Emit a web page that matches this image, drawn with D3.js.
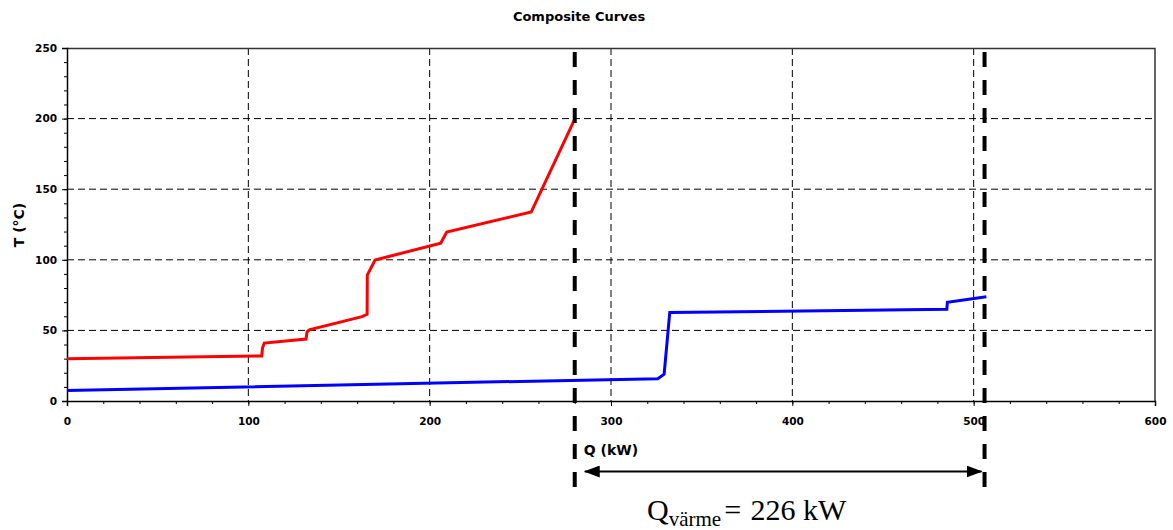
<!DOCTYPE html>
<html>
<head>
<meta charset="utf-8">
<script src="https://cdn.jsdelivr.net/npm/d3@7"></script>
<style>
    body { margin: 0; background: #fff; }
    text { font-family: "DejaVu Sans", sans-serif; font-weight: bold; }
    .tick text { font-size: 10.5px; fill: #000; }
</style>
</head>
<body>
<script>
// Composite curves: hot (red) and cold (blue) streams, Q in kW vs T in C.

// Axis ticks
var xTicks = [0, 100, 200, 300, 400, 500, 600];
var yTicks = [0, 50, 100, 150, 200, 250];

// Hot composite curve
var hotQ = [0, 107.4, 107.8, 108.8, 131.8, 132.4, 133.6, 162.7, 165.5,
            165.6, 169.9, 206.1, 209.4, 256, 280];
var hotT = [30, 31.9, 37.5, 41.0, 43.9, 49.0, 50.4, 59.7, 61.4,
            89.2, 99.9, 111.7, 119.7, 133.8, 199.7];

// Cold composite curve
var coldQ = [0, 325.8, 329.3, 332.4, 485.2, 485.5, 507];
var coldT = [7.5, 15.8, 19.0, 62.7, 64.9, 69.9, 73.9];

// Pinch / heating duty markers
var dutyQ = [280, 506];
var dutyLabel = "226 kW";

var margin = {top: 48, right: 18, bottom: 129, left: 67},
    width = 1173 - margin.left - margin.right,
    height = 530 - margin.top - margin.bottom;

var root = d3.select("body").append("svg")
    .attr("width", 1173)
    .attr("height", 530);

var svg = root.append("g")
    .attr("transform", "translate(" + margin.left + "," + margin.top + ")");

var xScale = d3.scaleLinear().domain([0, 600]).range([0, width]);
var yScale = d3.scaleLinear().domain([0, 250]).range([height, 0]);

// Grid lines, dashed
svg.selectAll(".vgrid")
    .data(xTicks.slice(1, -1))
    .enter()
    .append("line")
    .attr("x1", function(d) { return xScale(d); })
    .attr("x2", function(d) { return xScale(d); })
    .attr("y1", 0)
    .attr("y2", height)
    .attr("stroke", "#000")
    .attr("stroke-dasharray", "7,4");

svg.selectAll(".hgrid")
    .data(yTicks.slice(1, -1))
    .enter()
    .append("line")
    .attr("x1", 0)
    .attr("x2", width)
    .attr("y1", function(d) { return yScale(d); })
    .attr("y2", function(d) { return yScale(d); })
    .attr("stroke", "#000")
    .attr("stroke-dasharray", "7,4");

// Frame on top and right
svg.append("path")
    .attr("d", "M0,0.5H" + width + "V" + height)
    .attr("fill", "none")
    .attr("stroke", "#333")
    .attr("stroke-width", 1.5);

// Minor ticks
var xMinor = d3.range(0, 601, 20);
var yMinor = d3.range(0, 251, 10);

svg.append("g")
    .attr("transform", "translate(0," + height + ")")
    .call(d3.axisBottom(xScale).tickValues(xMinor).tickSize(3)
        .tickFormat(""))
    .select(".domain").remove();

svg.append("g")
    .call(d3.axisLeft(yScale).tickValues(yMinor).tickSize(3)
        .tickFormat(""))
    .select(".domain").remove();

// Main axes
var xAxis = svg.append("g")
    .attr("transform", "translate(0," + height + ")")
    .call(d3.axisBottom(xScale).tickValues(xTicks).tickSize(5)
        .tickPadding(12));
xAxis.select(".domain").attr("stroke-width", 1.5);

var yAxis = svg.append("g")
    .call(d3.axisLeft(yScale).tickValues(yTicks).tickSize(5)
        .tickPadding(5));
yAxis.select(".domain").attr("stroke-width", 1.5);

// Curves
var line = d3.line()
    .x(function(d) { return xScale(d[0]); })
    .y(function(d) { return yScale(d[1]); });

svg.append("path")
    .datum(d3.zip(coldQ, coldT))
    .attr("d", line)
    .attr("fill", "none")
    .attr("stroke", "#0000ff")
    .attr("stroke-width", 3);

svg.append("path")
    .datum(d3.zip(hotQ, hotT))
    .attr("d", line)
    .attr("fill", "none")
    .attr("stroke", "#ff0000")
    .attr("stroke-width", 3);

// Thick dashed duty lines
svg.selectAll(".duty")
    .data(dutyQ)
    .enter()
    .append("line")
    .attr("x1", function(d) { return xScale(d); })
    .attr("x2", function(d) { return xScale(d); })
    .attr("y1", 4)
    .attr("y2", 442)
    .attr("stroke", "#000")
    .attr("stroke-width", 4)
    .attr("stroke-dasharray", "15,13");

// Double headed arrow
var defs = root.append("defs");
defs.append("marker")
    .attr("id", "head")
    .attr("viewBox", "0 0 16 12")
    .attr("refX", 15).attr("refY", 6)
    .attr("markerWidth", 16).attr("markerHeight", 12)
    .attr("markerUnits", "userSpaceOnUse")
    .attr("orient", "auto-start-reverse")
    .append("path")
    .attr("d", "M0,0L16,6L0,12Z")
    .attr("fill", "#000");

svg.append("line")
    .attr("x1", xScale(dutyQ[0]) + 10)
    .attr("x2", xScale(dutyQ[1]) - 3)
    .attr("y1", 423.5)
    .attr("y2", 423.5)
    .attr("stroke", "#000")
    .attr("stroke-width", 2)
    .attr("marker-start", "url(#head)")
    .attr("marker-end", "url(#head)");

// Labels
root.append("text")
    .attr("x", 579)
    .attr("y", 21)
    .attr("text-anchor", "middle")
    .style("font-size", "13px")
    .text("Composite Curves");

root.append("text")
    .attr("transform", "translate(24,225) rotate(-90)")
    .attr("text-anchor", "middle")
    .style("font-size", "14px")
    .text("T (°C)");

svg.append("text")
    .attr("x", xScale(dutyQ[0]) + 9)
    .attr("y", 407)
    .style("font-size", "14px")
    .text("Q (kW)");

var eq = root.append("text")
    .attr("x", 647)
    .attr("y", 520)
    .style("font-family", "'Liberation Serif', 'DejaVu Serif', serif")
    .style("font-weight", "normal")
    .style("font-size", "30px");
eq.append("tspan").text("Q");
eq.append("tspan")
    .attr("dy", 6)
    .style("font-size", "21px")
    .text("värme");
eq.append("tspan")
    .attr("dy", -6)
    .attr("dx", 3)
    .text("=");
eq.append("tspan")
    .attr("dx", 2)
    .text(" " + dutyLabel);
</script>
</body>
</html>
